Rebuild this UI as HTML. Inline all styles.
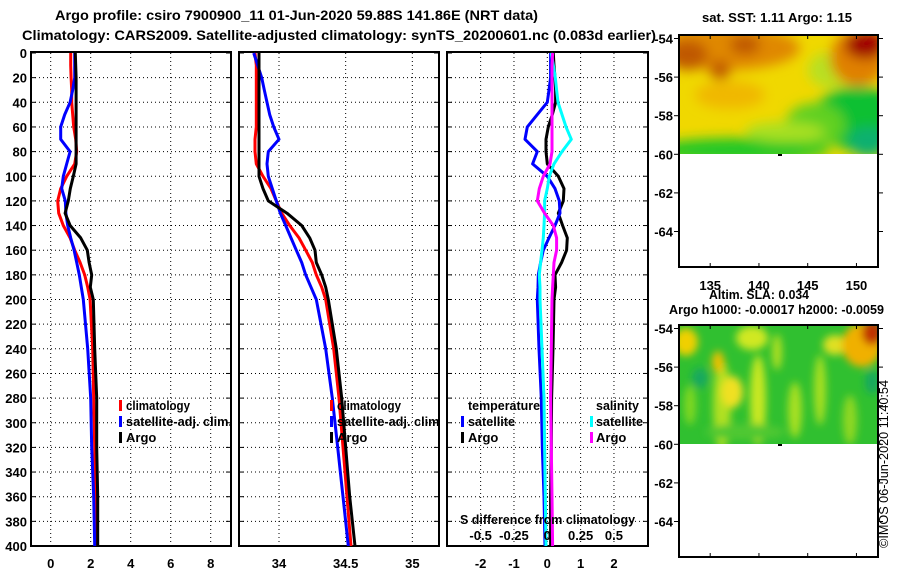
<!DOCTYPE html>
<html><head><meta charset="utf-8"><style>
html,body{margin:0;padding:0;background:#fff;}
svg{display:block;font-family:"Liberation Sans",sans-serif;font-weight:bold;}
text{fill:#000;}
</style></head><body>
<svg id="fig" width="900" height="580" viewBox="0 0 900 580">
<defs>
<clipPath id="c1"><rect x="31" y="38" width="200" height="508"/></clipPath>
<clipPath id="c2"><rect x="239" y="38" width="200" height="508"/></clipPath>
<clipPath id="c3"><rect x="447" y="38" width="201" height="508"/></clipPath>
<clipPath id="m1"><rect x="679" y="35" width="199" height="119"/></clipPath>
<clipPath id="m2"><rect x="679" y="325" width="199" height="119"/></clipPath>
<clipPath id="lg1"><rect x="31" y="38" width="200" height="508"/></clipPath>
<filter id="bl" x="-50%" y="-50%" width="200%" height="200%"><feGaussianBlur stdDeviation="6"/></filter>
<filter id="bl2" x="-50%" y="-50%" width="200%" height="200%"><feGaussianBlur stdDeviation="4"/></filter>
</defs>
<text x="55" y="20" font-size="14" textLength="483" lengthAdjust="spacingAndGlyphs">Argo profile: csiro 7900900_11 01-Jun-2020 59.88S 141.86E (NRT data)</text>
<text x="22" y="40" font-size="14" textLength="634" lengthAdjust="spacingAndGlyphs">Climatology: CARS2009. Satellite-adjusted climatology: synTS_20200601.nc (0.083d earlier)</text>

<g id="grids"></g>
<g id="lines"></g>

<!-- legends -->
<g font-size="13" clip-path="url(#lg1)">
<rect x="119" y="400" width="3" height="11" fill="#f00"/><text x="126" y="410" textLength="64" lengthAdjust="spacingAndGlyphs">climatology</text>
<rect x="119" y="416" width="3" height="11" fill="#00f"/><text x="126" y="426" textLength="106" lengthAdjust="spacingAndGlyphs">satellite-adj. clim.</text>
<rect x="119" y="432" width="3" height="11" fill="#000"/><text x="126" y="442">Argo</text>
</g>
<g font-size="13" clip-path="url(#c2)">
<rect x="330" y="400" width="3" height="11" fill="#f00"/><text x="337" y="410" textLength="64" lengthAdjust="spacingAndGlyphs">climatology</text>
<rect x="330" y="416" width="3" height="11" fill="#00f"/><text x="337" y="426" textLength="106" lengthAdjust="spacingAndGlyphs">satellite-adj. clim.</text>
<rect x="330" y="432" width="3" height="11" fill="#000"/><text x="337" y="442">Argo</text>
</g>
<g font-size="13">
<text x="468" y="410" textLength="72" lengthAdjust="spacingAndGlyphs">temperature</text>
<rect x="461" y="416" width="3" height="11" fill="#00f"/><text x="468" y="426" textLength="47" lengthAdjust="spacingAndGlyphs">satellite</text>
<rect x="461" y="432" width="3" height="11" fill="#000"/><text x="468" y="442">Argo</text>
<text x="596" y="410" textLength="43" lengthAdjust="spacingAndGlyphs">salinity</text>
<rect x="590" y="416" width="3" height="11" fill="#0ff"/><text x="596" y="426" textLength="47" lengthAdjust="spacingAndGlyphs">satellite</text>
<rect x="590" y="432" width="3" height="11" fill="#f0f"/><text x="596" y="442">Argo</text>
</g>
<text x="460" y="524" font-size="13" textLength="175" lengthAdjust="spacingAndGlyphs">S difference from climatology</text>
<g id="sticks" font-size="13" text-anchor="middle"></g>

<!-- maps -->
<text x="702" y="22" font-size="13" textLength="150" lengthAdjust="spacingAndGlyphs">sat. SST: 1.11 Argo: 1.15</text>
<g clip-path="url(#m1)">
<rect x="679" y="35" width="199" height="119" fill="#f0d800"/>
<g filter="url(#bl)">
<ellipse cx="725" cy="48" rx="75" ry="22" fill="#e08800"/>
<ellipse cx="688" cy="55" rx="20" ry="15" fill="#c05800"/>
<ellipse cx="720" cy="70" rx="10" ry="10" fill="#c05800"/>
<ellipse cx="745" cy="45" rx="15" ry="10" fill="#c05800"/>
<ellipse cx="730" cy="95" rx="35" ry="14" fill="#f0b800"/>
<ellipse cx="830" cy="70" rx="22" ry="18" fill="#b8e020"/>
<ellipse cx="858" cy="58" rx="28" ry="28" fill="#e08000"/>
<ellipse cx="865" cy="45" rx="20" ry="14" fill="#a00000"/>
<ellipse cx="858" cy="118" rx="45" ry="32" fill="#10c030"/>
<ellipse cx="868" cy="142" rx="20" ry="15" fill="#10b070"/>
<ellipse cx="740" cy="150" rx="90" ry="12" fill="#20c828"/>
<ellipse cx="815" cy="125" rx="30" ry="22" fill="#60d020"/>
<ellipse cx="785" cy="132" rx="40" ry="10" fill="#a8e020"/>
</g>
</g>
<rect x="778" y="154" width="4" height="2" fill="#000"/>
<rect x="679" y="35" width="199" height="232" fill="none" stroke="#000" stroke-width="2"/>

<text x="709" y="299" font-size="13" textLength="100" lengthAdjust="spacingAndGlyphs">Altim. SLA: 0.034</text>
<text x="669" y="314" font-size="13" textLength="215" lengthAdjust="spacingAndGlyphs">Argo h1000: -0.00017 h2000: -0.0059</text>
<g clip-path="url(#m2)">
<rect x="679" y="325" width="199" height="119" fill="#30c030"/>
<g filter="url(#bl2)">
<ellipse cx="686" cy="342" rx="12" ry="14" fill="#f0d000"/>
<ellipse cx="722" cy="405" rx="9" ry="45" fill="#b0e020"/>
<ellipse cx="732" cy="392" rx="11" ry="16" fill="#f0e020"/>
<ellipse cx="718" cy="362" rx="6" ry="11" fill="#f0c000"/>
<ellipse cx="752" cy="338" rx="16" ry="12" fill="#d0e820"/>
<ellipse cx="758" cy="400" rx="8" ry="45" fill="#c8e820"/>
<ellipse cx="777" cy="352" rx="5" ry="18" fill="#b0e020"/>
<ellipse cx="795" cy="410" rx="7" ry="28" fill="#a8e020"/>
<ellipse cx="820" cy="390" rx="6" ry="35" fill="#a8e020"/>
<ellipse cx="835" cy="345" rx="12" ry="10" fill="#e0e020"/>
<ellipse cx="862" cy="345" rx="20" ry="22" fill="#f0b000"/>
<ellipse cx="872" cy="333" rx="10" ry="12" fill="#c03000"/>
<ellipse cx="700" cy="378" rx="8" ry="10" fill="#18a860"/>
<ellipse cx="850" cy="420" rx="7" ry="25" fill="#90d820"/>
<ellipse cx="872" cy="382" rx="7" ry="12" fill="#18a860"/>
<ellipse cx="690" cy="405" rx="6" ry="20" fill="#80d820"/>
<ellipse cx="745" cy="432" rx="40" ry="8" fill="#50c830"/>
</g>
</g>
<rect x="778" y="444" width="4" height="2" fill="#000"/>
<rect x="679" y="325" width="199" height="232" fill="none" stroke="#000" stroke-width="2"/>
<g id="mapticks" font-size="13"></g>
<text transform="translate(888,548) rotate(-90)" font-size="13" font-weight="normal" textLength="168" lengthAdjust="spacingAndGlyphs">©IMOS 06-Jun-2020 11:40:54</text>
</svg>
<script>
const depths=[0,10,20,30,40,50,60,70,80,90,100,110,120,130,140,150,160,170,180,190,200,240,280,320,360,400];
const tClim=[1.0,1.0,1.02,1.05,1.05,1.1,1.15,1.25,1.3,1.2,0.8,0.5,0.35,0.4,0.63,0.97,1.2,1.47,1.7,1.85,1.97,2.1,2.15,2.2,2.25,2.3];
const tSat=[1.2,1.2,1.2,1.1,0.97,0.7,0.5,0.5,0.97,0.8,0.63,0.55,0.73,0.76,0.85,1.0,1.17,1.3,1.43,1.53,1.63,1.85,2.0,2.05,2.15,2.2];
const tArgo=[1.23,1.25,1.27,1.27,1.27,1.27,1.27,1.27,1.27,1.27,1.13,0.98,0.88,0.72,0.97,1.5,1.83,1.92,2.05,1.98,2.13,2.2,2.3,2.3,2.35,2.35];
const sClim=[33.82,33.83,33.83,33.83,33.83,33.83,33.83,33.82,33.82,33.83,33.88,33.94,33.98,34.02,34.08,34.15,34.2,34.25,34.28,34.32,34.35,34.41,34.45,34.48,34.51,34.54];
const sSat=[33.81,33.84,33.87,33.89,33.91,33.93,33.96,34.0,33.92,33.91,33.92,33.95,33.98,34.01,34.05,34.09,34.13,34.17,34.2,34.24,34.28,34.35,34.40,34.44,34.48,34.52];
const sArgo=[33.85,33.85,33.85,33.85,33.85,33.85,33.85,33.85,33.85,33.85,33.85,33.88,33.92,34.06,34.17,34.23,34.27,34.28,34.32,34.35,34.37,34.43,34.47,34.5,34.53,34.57];
const dTSat=[0.1,0.1,0.1,0.05,0,-0.3,-0.6,-0.67,-0.3,-0.44,0,0.23,0.36,0.38,0.23,0.05,-0.12,-0.2,-0.27,-0.28,-0.3,-0.25,-0.18,-0.15,-0.1,-0.07];
const dTArgo=[0.18,0.2,0.23,0.25,0.25,0.15,0.03,-0.04,-0.04,0,0.33,0.5,0.48,0.33,0.46,0.6,0.58,0.43,0.23,0.25,0.2,0.17,0.13,0.12,0.1,0.1];
const dSSat=[0.03,0.045,0.06,0.07,0.08,0.11,0.14,0.18,0.11,0.05,0.015,0,-0.02,-0.02,-0.025,-0.03,-0.04,-0.05,-0.06,-0.055,-0.055,-0.04,-0.025,-0.02,-0.015,-0.01];
const dSArgo=[0.04,0.035,0.035,0.035,0.035,0.035,0.035,0.035,0.035,0.02,-0.03,-0.06,-0.075,-0.02,0.045,0.07,0.07,0.05,0.045,0.04,0.035,0.03,0.025,0.03,0.035,0.04];
const depthTicks=[0,20,40,60,80,100,120,140,160,180,200,220,240,260,280,300,320,340,360,380,400];
const tTicks=[0,2,4,6,8];
const sTicks=[34,34.5,35];
const dTicks=[-2,-1,0,1,2];
const dSTicks=[-0.5,-0.25,0,0.25,0.5];
const lonTicks=[135,140,145,150];
const latTicks=[-54,-56,-58,-60,-62,-64];

const NS='http://www.w3.org/2000/svg';
const yD=d=>53+d*1.2325;
const xT=v=>50.7+20*v;
const xS=v=>279+133.33*(v-34);
const xD=v=>547.3+33.33*v;
const xDS=v=>547.3+133.33*v;
const lonX=v=>679+(v-131.8)*9.75;
const latY1=v=>38.5+(-54-v)*19.3;
const latY2=v=>328.5+(-54-v)*19.3;
function el(tag,attrs,parent){const e=document.createElementNS(NS,tag);for(const k in attrs)e.setAttribute(k,attrs[k]);parent.appendChild(e);return e;}
const grids=document.getElementById('grids');
const lines=document.getElementById('lines');
const panels=[
 {x0:31,x1:231,ticks:tTicks,fx:xT,label:v=>String(v),name:'temperature-panel',yl:true},
 {x0:239,x1:439,ticks:sTicks,fx:xS,label:v=>String(v),name:'salinity-panel'},
 {x0:447,x1:648,ticks:dTicks,fx:xD,label:v=>String(v),name:'difference-panel'}
];
panels.forEach((p,i)=>{
 const g=el('g',{},grids);
 
 
 depthTicks.forEach(d=>{
  if(d>0&&d<400) el('line',{x1:p.x0,x2:p.x1,y1:yD(d),y2:yD(d),stroke:'#000','stroke-width':1,'stroke-dasharray':'1,3'},g);
  el('line',{x1:p.x0,x2:p.x0+5,y1:yD(d),y2:yD(d),stroke:'#000'},g);
  el('line',{x1:p.x1-5,x2:p.x1,y1:yD(d),y2:yD(d),stroke:'#000'},g);
  if(p.yl){const t=el('text',{x:27,y:yD(d)+5,'font-size':13,'text-anchor':'end'},g);t.textContent=d;
   
   }
 });
 p.ticks.forEach(v=>{
  const x=p.fx(v);
  el('line',{x1:x,x2:x,y1:yD(0),y2:yD(400),stroke:'#000','stroke-width':1,'stroke-dasharray':'1,3'},g);
  const t=el('text',{x:x,y:568,'font-size':13,'text-anchor':'middle'},g);t.textContent=p.label(v);
  
  
 });
 el('rect',{x:p.x0,y:yD(0)-1,width:p.x1-p.x0,height:yD(400)-yD(0)+1,fill:'none',stroke:'#000','stroke-width':2},g);
});
function line(vals,fx,color,clip,name){
 const pts=vals.map((v,i)=>fx(v).toFixed(1)+','+yD(depths[i]).toFixed(1)).join(' ');
 const pl=el('polyline',{points:pts,fill:'none',stroke:color,'stroke-width':3,'stroke-linejoin':'round','clip-path':'url(#'+clip+')'},lines);
 
 
}
line(tClim,xT,'#f00','c1','temperature-climatology-line');
line(tSat,xT,'#00f','c1','temperature-satellite-line');
line(tArgo,xT,'#000','c1','temperature-argo-line');
line(sClim,xS,'#f00','c2','salinity-climatology-line');
line(sSat,xS,'#00f','c2','salinity-satellite-line');
line(sArgo,xS,'#000','c2','salinity-argo-line');
line(dTArgo,xD,'#000','c3','temperature-diff-argo-line');
line(dTSat,xD,'#00f','c3','temperature-diff-satellite-line');
line(dSSat,xDS,'#0ff','c3','salinity-diff-satellite-line');
line(dSArgo,xDS,'#f0f','c3','salinity-diff-argo-line');
const st=document.getElementById('sticks');
dSTicks.forEach(v=>{const t=el('text',{x:xDS(v),y:540},st);t.textContent=String(v);
 
 });
const mt=document.getElementById('mapticks');
[[latY1,35,267],[latY2,325,557]].forEach(([fy,top,bot],mi)=>{
 latTicks.forEach(v=>{const y=fy(v);
  el('line',{x1:679,x2:674,y1:y,y2:y,stroke:'#000'},mt);
  el('line',{x1:878,x2:883,y1:y,y2:y,stroke:'#000'},mt);
  const t=el('text',{x:673,y:y+5,'text-anchor':'end'},mt);t.textContent=String(v);
  
  });
 lonTicks.forEach(v=>{const x=lonX(v);
  el('line',{x1:x,x2:x,y1:top,y2:top+4,stroke:'#000'},mt);
  el('line',{x1:x,x2:x,y1:bot,y2:bot-4,stroke:'#000'},mt);
  if(mi===0){const t=el('text',{x:x,y:290,'text-anchor':'middle'},mt);t.textContent=String(v);
   
   }
 });
});
</script>
</body></html>
